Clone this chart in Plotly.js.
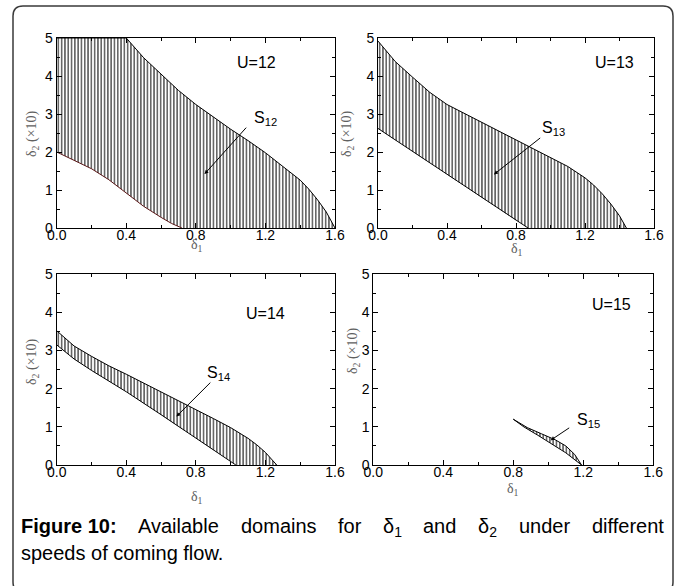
<!DOCTYPE html>
<html><head><meta charset="utf-8">
<script src="https://cdn.plot.ly/plotly-3.0.1.min.js"></script>
<style>html,body{margin:0;padding:0;background:#fff;} #chart{width:680px;height:586px;}</style>
</head><body><div id="chart"></div>
<script>
// ---------- data ----------
const speedLabels = ['U=12', 'U=13', 'U=14', 'U=15'];
const domainSubs = ['12', '13', '14', '15'];
const xTickVals = [0, 0.4, 0.8, 1.2, 1.6];
const xTickText = ['0.0', '0.4', '0.8', '1.2', '1.6'];
const xMinorVals = [0.2, 0.6, 1.0, 1.4];
const yTickVals = [0, 1, 2, 3, 4, 5];
const yTickText = ['0', '1', '2', '3', '4', '5'];
const yMinorVals = [0.5, 1.5, 2.5, 3.5, 4.5];

// U = 12
const u12UpperX = [0, 0.4, 0.5, 0.6, 0.7, 0.8, 0.9, 1.0, 1.1, 1.2, 1.3, 1.4, 1.45, 1.5, 1.55, 1.6];
const u12UpperY = [5, 5, 4.48, 4.05, 3.62, 3.25, 2.92, 2.60, 2.30, 1.98, 1.62, 1.26, 1.02, 0.74, 0.42, 0];
const u12LowerX = [0, 0.1, 0.2, 0.3, 0.4, 0.5, 0.6, 0.66, 0.72];
const u12LowerY = [2.0, 1.79, 1.56, 1.27, 0.92, 0.57, 0.28, 0.12, 0];
// U = 13
const u13UpperX = [0, 0.1, 0.2, 0.3, 0.4, 0.5, 0.6, 0.7, 0.8, 0.9, 1.0, 1.1, 1.2, 1.25, 1.3, 1.35, 1.4, 1.44];
const u13UpperY = [4.92, 4.38, 3.97, 3.57, 3.25, 3.02, 2.78, 2.55, 2.32, 2.10, 1.87, 1.62, 1.32, 1.13, 0.90, 0.63, 0.32, 0];
const u13LowerX = [0, 0.2, 0.4, 0.6, 0.8, 0.87];
const u13LowerY = [2.62, 2.02, 1.40, 0.80, 0.20, 0];
// U = 14
const u14UpperX = [0, 0.1, 0.2, 0.3, 0.4, 0.5, 0.6, 0.7, 0.8, 0.9, 1.0, 1.05, 1.1, 1.15, 1.2, 1.265];
const u14UpperY = [3.52, 3.12, 2.85, 2.60, 2.38, 2.15, 1.92, 1.70, 1.46, 1.22, 0.98, 0.85, 0.70, 0.53, 0.33, 0];
const u14LowerX = [0, 0.1, 0.2, 0.4, 0.6, 0.8, 1.03];
const u14LowerY = [3.15, 2.78, 2.48, 1.92, 1.32, 0.70, 0];
// U = 15
const u15UpperX = [0.80, 0.88, 0.96, 1.04, 1.10, 1.15, 1.19];
const u15UpperY = [1.20, 0.98, 0.82, 0.66, 0.50, 0.28, 0];
const u15LowerX = [0.80, 0.86, 0.94, 1.02, 1.10, 1.19];
const u15LowerY = [1.20, 1.00, 0.78, 0.56, 0.32, 0];

// ---------- build ----------
const sets = [
  [u12UpperX, u12UpperY, u12LowerX, u12LowerY],
  [u13UpperX, u13UpperY, u13LowerX, u13LowerY],
  [u14UpperX, u14UpperY, u14LowerX, u14LowerY],
  [u15UpperX, u15UpperY, u15LowerX, u15LowerY]
];
const traces = [];
sets.forEach((s, i) => {
  const xa = i === 0 ? 'x' : 'x' + (i + 1);
  const ya = i === 0 ? 'y' : 'y' + (i + 1);
  const px = s[0].concat(s[2].slice().reverse());
  const py = s[1].concat(s[3].slice().reverse());
  traces.push({x: px, y: py, xaxis: xa, yaxis: ya, type: 'scatter', mode: 'lines',
    fill: 'toself', fillcolor: 'rgba(0,0,0,0)', line: {width: 0, color: 'rgba(0,0,0,0)'},
    fillpattern: {shape: '|', size: 3.3, solidity: 0.32, fgcolor: '#111', bgcolor: 'white'},
    hoverinfo: 'skip', showlegend: false});
  traces.push({x: s[0], y: s[1], xaxis: xa, yaxis: ya, type: 'scatter', mode: 'lines',
    line: {width: 1, color: '#000'}, hoverinfo: 'skip', showlegend: false, cliponaxis: false});
  traces.push({x: s[2], y: s[3], xaxis: xa, yaxis: ya, type: 'scatter', mode: 'lines',
    line: {width: 1, color: i === 0 ? '#5a1616' : '#000'}, hoverinfo: 'skip', showlegend: false, cliponaxis: false});
});

const W = 680, H = 586;
const px = v => v / W;
const py = v => 1 - v / H;
const tickFont = {family: 'Liberation Sans, Arial, sans-serif', size: 14, color: '#000'};

function xAxis(d0, d1, anchor) {
  return {domain: [px(d0), px(d1)], anchor: anchor, range: [0, 1.6],
    tickmode: 'array', tickvals: xTickVals, ticktext: xTickText,
    ticks: 'inside', ticklen: 5, tickwidth: 1, tickcolor: '#000', ticklabelstandoff: -6,
    minor: {tickmode: 'array', tickvals: xMinorVals, ticks: 'inside', ticklen: 3, tickwidth: 1, tickcolor: '#000'},
    showline: true, linecolor: '#000', linewidth: 1, mirror: 'allticks',
    showgrid: false, zeroline: false, tickfont: tickFont, fixedrange: true};
}
function yAxis(d0, d1, anchor) {
  return {domain: [py(d1), py(d0)], anchor: anchor, range: [0, 5],
    tickmode: 'array', tickvals: yTickVals, ticktext: yTickText,
    ticks: 'inside', ticklen: 5, tickwidth: 1, tickcolor: '#000',
    minor: {tickmode: 'array', tickvals: yMinorVals, ticks: 'inside', ticklen: 3, tickwidth: 1, tickcolor: '#000'},
    showline: true, linecolor: '#000', linewidth: 1, mirror: 'allticks',
    showgrid: false, zeroline: false, tickfont: tickFont, fixedrange: true};
}

const ann = [];
const labelFont = {family: 'Liberation Sans, Arial, sans-serif', size: 16, color: '#000'};
const titleFont = {family: 'Liberation Serif, Times New Roman, serif', size: 14, color: '#606060'};
// speed labels and region labels
const uPos = [[1.15, 4.35], [1.37, 4.36], [1.2, 3.98], [1.36, 4.21]];
const sPos = [[1.20, 2.88], [1.02, 2.62], [0.93, 2.40], [1.23, 1.16]];
const arrowPos = [[1.097, 2.68, 0.85, 1.42], [0.949, 2.40, 0.672, 1.41], [0.892, 2.2, 0.688, 1.27], [1.128, 1.0, 1.014, 0.65]];
for (let i = 0; i < 4; i++) {
  const xr = i === 0 ? 'x' : 'x' + (i + 1);
  const yr = i === 0 ? 'y' : 'y' + (i + 1);
  ann.push({xref: xr, yref: yr, x: uPos[i][0], y: uPos[i][1], text: speedLabels[i], showarrow: false, font: labelFont});
  ann.push({xref: xr, yref: yr, x: sPos[i][0], y: sPos[i][1], text: 'S<sub>' + domainSubs[i] + '</sub>', showarrow: false, font: labelFont});
  ann.push({xref: xr, yref: yr, axref: xr, ayref: yr, x: arrowPos[i][2], y: arrowPos[i][3], ax: arrowPos[i][0], ay: arrowPos[i][1],
    text: '', showarrow: true, arrowhead: 2, arrowsize: 0.8, arrowwidth: 1, arrowcolor: '#000'});
}
// axis titles
const xtPos = [[197, 245], [517, 249], [197, 497], [513, 489]];
const ytPos = [[33, 134], [348, 134], [32, 362], [353, 351]];
for (let i = 0; i < 4; i++) {
  ann.push({xref: 'paper', yref: 'paper', x: px(xtPos[i][0]), y: py(xtPos[i][1]), text: 'δ<sub>1</sub>', showarrow: false, font: titleFont, xanchor: 'center', yanchor: 'middle'});
  ann.push({xref: 'paper', yref: 'paper', x: px(ytPos[i][0]), y: py(ytPos[i][1]), text: 'δ<sub>2</sub> (×10)', showarrow: false, font: titleFont, textangle: -90, xanchor: 'center', yanchor: 'middle'});
}
// caption (justified first line)
const capFont = {family: 'Liberation Sans, Arial, sans-serif', size: 20, color: '#000'};
const capWords1 = ['<b>Figure 10:</b>', 'Available', 'domains', 'for', 'δ<sub>1</sub>', 'and', 'δ<sub>2</sub>', 'under', 'different'];
const capX1 = [19, 136, 239, 336, 381, 421, 476, 517, 590];
capWords1.forEach((w, i) => ann.push({xref: 'paper', yref: 'paper', x: px(capX1[i]), y: py(513), text: w, showarrow: false, font: capFont, xanchor: 'left', yanchor: 'top'}));
ann.push({xref: 'paper', yref: 'paper', x: px(19), y: py(540), text: 'speeds of coming flow.', showarrow: false, font: capFont, xanchor: 'left', yanchor: 'top'});

const x0 = 13, x1 = 673, yt = 6, yb = 592, r = 10;
const border = 'M ' + px(x0 + r) + ',' + py(yt) + ' L ' + px(x1 - r) + ',' + py(yt) +
  ' Q ' + px(x1) + ',' + py(yt) + ' ' + px(x1) + ',' + py(yt + r) +
  ' L ' + px(x1) + ',' + py(yb - r) + ' Q ' + px(x1) + ',' + py(yb) + ' ' + px(x1 - r) + ',' + py(yb) +
  ' L ' + px(x0 + r) + ',' + py(yb) + ' Q ' + px(x0) + ',' + py(yb) + ' ' + px(x0) + ',' + py(yb - r) +
  ' L ' + px(x0) + ',' + py(yt + r) + ' Q ' + px(x0) + ',' + py(yt) + ' ' + px(x0 + r) + ',' + py(yt) + ' Z';

const layout = {
  width: W, height: H, margin: {l: 0, r: 0, t: 0, b: 0},
  paper_bgcolor: '#fff', plot_bgcolor: 'rgba(0,0,0,0)', showlegend: false,
  xaxis: xAxis(56.7, 335, 'y'), yaxis: yAxis(38, 228, 'x'),
  xaxis2: xAxis(378, 654, 'y2'), yaxis2: yAxis(38, 228, 'x2'),
  xaxis3: xAxis(56.7, 335, 'y3'), yaxis3: yAxis(274.3, 465, 'x3'),
  xaxis4: xAxis(373.3, 653.3, 'y4'), yaxis4: yAxis(274.3, 465, 'x4'),
  annotations: ann,
  shapes: [{type: 'path', xref: 'paper', yref: 'paper', path: border, line: {color: '#3a3a3a', width: 1.5}}]
};
Plotly.newPlot('chart', traces, layout, {staticPlot: true, displayModeBar: false});
</script></body></html>
